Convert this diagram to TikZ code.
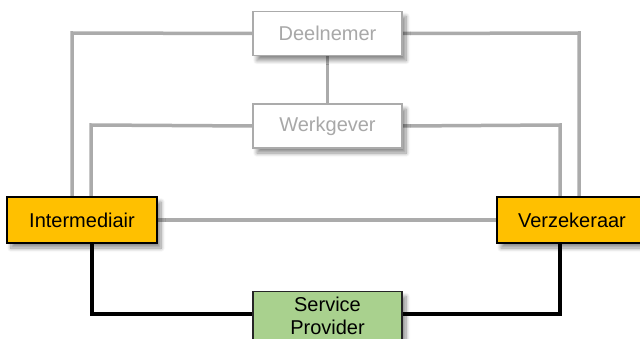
\documentclass[tikz,border=0pt]{standalone}
\usepackage{fontspec}
\setmainfont{Liberation Sans}
\usetikzlibrary{shadows.blur}
\pgfdeclarelayer{background}
\pgfsetlayers{background,main}
\definecolor{linegray}{HTML}{ABABAB}
\definecolor{txtgray}{HTML}{A8A8A8}
\definecolor{boxgold}{HTML}{FFC000}
\definecolor{boxgreen}{HTML}{A9D18E}
\begin{document}
\begin{tikzpicture}[x=1pt,y=-1pt,
  base/.style={rectangle, minimum width=149pt, inner sep=0pt, align=center,
    font=\fontsize{20}{23}\selectfont,
    blur shadow={shadow xshift=4pt, shadow yshift=-5pt, shadow blur steps=8, shadow blur radius=4pt, shadow opacity=45}},
  grayrole/.style={base, draw=linegray, line width=1.2pt, fill=white, text=txtgray, minimum height=44pt},
  goldrole/.style={base, draw=black, line width=1.2pt, fill=boxgold, minimum height=46pt, minimum width=150pt},
  greenrole/.style={base, draw=black!85, line width=1.2pt, fill=boxgreen, minimum height=48pt},
  grayline/.style={draw=linegray, line width=3.5pt},
  blackline/.style={draw=black, line width=3.5pt}]
\useasboundingbox (0,0) rectangle (640,339);

\node[grayrole] (deel) at (327.5,33.5) {Deelnemer};
\node[grayrole] (werk) at (327.5,126) {Werkgever};
\node[goldrole] (inter) at (82,220) {Intermediair};
\node[goldrole] (verz) at (572,220) {Verzekeraar};
\node[greenrole] (serv) at (327.5,315.5) {Service\\Provider};

\coordinate (dlw) at (72,33);
\coordinate (dre) at (579,33);
\coordinate (wlw) at (91,125);
\coordinate (wre) at (560,125);
\coordinate (bl) at (92,314);
\coordinate (br) at (560,314);

\begin{pgfonlayer}{background}
\path[grayline] (deel.west) -- (dlw) -- (dlw |- inter.north);
\path[grayline] (deel.east) -- (dre) -- (dre |- verz.north);
\path[grayline] (werk.west) -- (wlw) -- (wlw |- inter.north);
\path[grayline] (werk.east) -- (wre) -- (wre |- verz.north);
\path[grayline] (deel.south) -- (werk.north);
\path[grayline] (inter.east) -- (verz.west);
\path[blackline] (inter.south -| bl) -- (bl) -- (serv.west |- bl);
\path[blackline] (verz.south -| br) -- (br) -- (serv.east |- br);
\end{pgfonlayer}
\end{tikzpicture}
\end{document}
